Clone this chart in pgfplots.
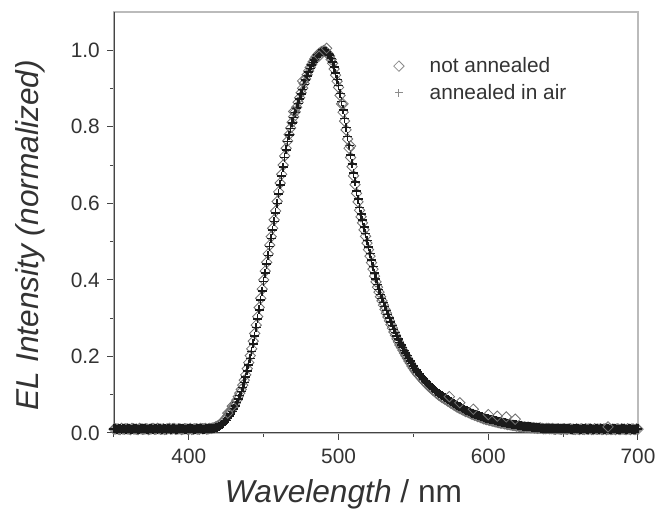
\documentclass[border=0pt]{standalone}
\usepackage{pgfplots}
\pgfplotsset{compat=1.18}
\usepackage{pgfplotstable}
\usepackage{fontspec}
\setmainfont{Liberation Sans}
\definecolor{txt}{HTML}{333333}
\definecolor{axdark}{HTML}{444444}
\definecolor{axlight}{HTML}{BBBBBB}
\definecolor{diam}{HTML}{707070}
\definecolor{plusc}{HTML}{1A1A1A}
\definecolor{legd}{HTML}{8C8C8C}

\pgfplotstableread{
x d p
350 .010 .011
352 .011 .010
354 .009 .011
356 .010 .012
358 .011 .010
360 .010 .011
362 .012 .010
364 .010 .011
366 .009 .010
368 .011 .012
370 .010 .011
372 .011 .010
374 .010 .011
376 .012 .010
378 .010 .012
380 .011 .011
382 .010 .010
384 .009 .011
386 .011 .012
388 .010 .010
390 .012 .011
392 .010 .010
394 .011 .012
396 .010 .011
398 .011 .010
400 .010 .011
402 .009 .012
404 .011 .010
406 .010 .011
408 .012 .011
410 .011 .010
412 .010 .012
414 .012 .011
416 .013 .012
418 .016 .014
420 .020 .017
422 .027 .022
424 .035 .029
426 .045 .038
428 .057 .050
430 .070 .063
432 .086 .080
434 .104 .098
436 .125 .119
438 .152 .146
440 .184 .178
442 .220 .213
444 .260 .253
446 .304 .298
448 .352 .347
450 .400 .396
452 .446 .441
454 .491 .487
456 .535 .530
458 .580 .575
460 .630 .625
462 .676 .671
464 .724 .720
466 .763 .761
468 .797 .796
470 .826 .824
472 .851 .849
474 .876 .873
476 .901 .898
478 .925 .922
480 .946 .943
482 .963 .961
484 .977 .975
486 .988 .987
488 .995 .994
490 .999 .998
492 .995 .996
494 .985 .987
496 .966 .970
498 .935 .940
500 .903 .908
502 .860 .866
504 .815 .822
506 .768 .775
508 .720 .727
510 .672 .679
512 .626 .632
514 .582 .589
516 .549 .556
518 .514 .521
520 .479 .486
522 .445 .452
524 .410 .418
526 .381 .388
528 .356 .362
530 .334 .341
532 .313 .320
534 .293 .300
536 .274 .281
538 .255 .262
540 .238 .245
542 .223 .230
544 .209 .216
546 .195 .202
548 .182 .188
550 .169 .175
552 .158 .164
554 .149 .154
556 .140 .145
558 .131 .136
560 .123 .128
562 .116 .120
564 .109 .113
566 .102 .106
568 .096 .100
570 .091 .095
572 .086 .090
574 .081 .085
576 .076 .080
578 .071 .075
580 .066 .070
582 .062 .066
584 .058 .062
586 .055 .058
588 .051 .054
590 .048 .051
592 .045 .048
594 .042 .045
596 .039 .042
598 .036 .039
600 .034 .037
602 .032 .035
604 .030 .033
606 .028 .031
608 .026 .029
610 .025 .028
612 .023 .026
614 .022 .024
616 .020 .023
618 .019 .021
620 .018 .020
622 .017 .019
624 .016 .018
626 .015 .017
628 .014 .016
630 .014 .015
632 .013 .015
634 .013 .014
636 .012 .013
638 .011 .012
640 .012 .013
642 .011 .012
644 .010 .012
646 .011 .011
648 .010 .012
650 .011 .011
652 .010 .012
654 .011 .011
656 .010 .010
658 .009 .011
660 .010 .011
662 .011 .010
664 .009 .011
666 .010 .010
668 .011 .011
670 .009 .010
672 .010 .011
674 .010 .010
676 .009 .011
678 .011 .010
680 .010 .011
682 .009 .010
684 .010 .011
686 .011 .010
688 .009 .010
690 .010 .011
692 .009 .010
694 .010 .011
696 .011 .010
698 .009 .010
700 .010 .011
351 .011 .012
353 .010 .011
355 .012 .010
357 .010 .011
359 .011 .012
361 .009 .010
363 .011 .012
365 .010 .011
367 .012 .010
369 .010 .011
371 .011 .012
373 .009 .010
375 .011 .012
377 .010 .011
379 .012 .010
381 .010 .012
383 .011 .011
385 .010 .010
387 .012 .011
389 .011 .012
391 .010 .010
393 .011 .011
395 .009 .012
397 .011 .010
399 .010 .012
401 .012 .011
403 .010 .010
405 .011 .012
407 .010 .011
409 .011 .010
411 .012 .011
413 .011 .012
415 .012 .012
417 .014 .013
419 .018 .015
421 .023 .019
423 .031 .025
425 .040 .033
427 .051 .044
429 .063 .056
431 .078 .071
433 .095 .089
435 .114 .108
437 .138 .132
439 .168 .162
441 .202 .195
443 .240 .233
445 .282 .275
447 .328 .322
449 .376 .371
451 .423 .418
453 .468 .464
455 .513 .508
457 .557 .552
459 .605 .600
461 .653 .648
463 .700 .695
465 .744 .740
467 .780 .778
469 .812 .810
471 .839 .837
473 .864 .861
475 .889 .886
477 .913 .910
479 .936 .933
481 .955 .952
483 .970 .968
485 .983 .981
487 .992 .991
489 .997 .996
491 .998 .998
493 .991 .992
495 .976 .979
497 .951 .956
499 .919 .924
501 .882 .887
503 .838 .844
505 .792 .798
507 .744 .751
509 .696 .703
511 .649 .656
513 .604 .611
515 .565 .572
517 .531 .538
519 .496 .503
521 .462 .469
523 .428 .435
525 .395 .403
527 .368 .375
529 .345 .352
531 .323 .330
533 .303 .310
535 .283 .290
537 .264 .271
539 .246 .253
541 .230 .237
543 .216 .223
545 .202 .209
547 .188 .195
549 .175 .181
551 .163 .169
553 .153 .159
555 .144 .150
557 .135 .140
559 .127 .132
561 .119 .124
563 .112 .116
565 .105 .109
567 .099 .103
569 .093 .097
571 .088 .092
573 .083 .087
575 .078 .082
577 .073 .077
579 .068 .072
581 .064 .068
583 .060 .064
585 .056 .060
587 .053 .056
589 .049 .052
591 .046 .049
593 .043 .046
595 .040 .043
597 .037 .040
599 .035 .038
601 .033 .036
603 .031 .034
605 .029 .032
607 .027 .030
609 .026 .028
611 .024 .027
613 .022 .025
615 .021 .024
617 .020 .022
619 .018 .021
621 .017 .020
623 .016 .018
625 .015 .017
627 .015 .016
629 .014 .015
631 .013 .015
633 .012 .014
635 .013 .013
637 .011 .013
639 .012 .012
641 .011 .013
643 .012 .011
645 .010 .012
647 .011 .012
649 .010 .011
651 .011 .012
653 .010 .011
655 .011 .010
657 .010 .012
659 .011 .011
661 .009 .010
663 .010 .012
665 .011 .011
667 .010 .010
669 .009 .011
671 .011 .010
673 .010 .011
675 .011 .012
677 .010 .010
679 .009 .011
681 .011 .010
683 .010 .012
685 .009 .011
687 .010 .010
689 .011 .011
691 .010 .012
693 .011 .010
695 .009 .011
697 .010 .010
699 .011 .012
}\spec

\begin{document}
\begin{tikzpicture}
\begin{axis}[
  scale only axis,
  width=314.4pt, height=252.6pt,
  xmin=350, xmax=700, ymin=0, ymax=1.1,
  xtick={400,500,600,700},
  minor xtick={350,450,550,650},
  ytick={0,0.2,0.4,0.6,0.8,1.0},
  minor ytick={0.1,0.3,0.5,0.7,0.9},
  yticklabel style={/pgf/number format/fixed, /pgf/number format/fixed zerofill, /pgf/number format/precision=1},
  /pgf/number format/assume math mode=true,
  tick pos=left,
  tick align=outside,
  major tick length=4pt,
  minor tick length=2.5pt,
  tick style={axdark, line width=0.6pt},
  axis line style={axlight, line width=0.8pt},
  ticklabel style={font=\fontsize{12.5}{14}\selectfont, text=txt},
  xticklabel style={yshift=-2pt},
  yticklabel style={xshift=-1pt},
  xlabel={\textit{Wavelength} / nm},
  ylabel={\textit{EL Intensity (normalized)}},
  label style={font=\fontsize{19}{22}\selectfont, text=txt},
  xlabel style={at={(axis description cs:0.438,-0.166)}, anchor=base},
  ylabel style={at={(axis description cs:-0.160,0.47)}, anchor=center},
  legend style={draw=none, fill=none, at={(axis description cs:0.530,0.905)}, anchor=north west,
    font=\fontsize{12.5}{14}\selectfont, text=txt, row sep=1.5pt, inner sep=1pt},
  legend image code/.code={\draw[#1] plot coordinates {(0cm,0cm)}; \path[draw=none] (0cm,0cm) -- (0.58cm,0cm);},
  legend cell align=left,
  clip=true,
]
\draw[axdark, line width=0.8pt] (rel axis cs:0,1) -- (rel axis cs:0,0) -- (rel axis cs:1,0);
\addlegendimage{only marks, mark=square, mark size=2.2pt, mark options={rotate=45, draw=legd, line width=0.5pt, fill=none}}
\addlegendentry{not annealed}
\addlegendimage{only marks, mark=+, mark size=2.2pt, mark options={draw=legd, line width=0.5pt}}
\addlegendentry{annealed in air}
\addplot[forget plot, only marks, mark=square, mark size=2.2pt, mark options={rotate=45, draw=diam, line width=0.5pt, fill=none}] table[x=x,y=d] {\spec};
\addplot[forget plot, only marks, mark=+, mark size=2.7pt, mark options={draw=plusc, line width=0.9pt}] table[x=x,y=p] {\spec};
\addplot[forget plot, only marks, mark=square, mark size=2.2pt, mark options={rotate=45, draw=diam, line width=0.5pt, fill=none}] coordinates {
(574,0.095) (581,0.079) (590,0.062) (600,0.048) (606,0.044) (612,0.042) (618,0.036) (680,0.016) (492,1.005) (487,0.985) (476,0.92) (470,0.84) (503,0.86) (508,0.75) (426,0.052) (429,0.070)};
\end{axis}
\pgfresetboundingbox
\useasboundingbox ([shift={(-68.4pt,-48pt)}]current axis.south west) rectangle ([shift={(16.8pt,7.2pt)}]current axis.north east);
\end{tikzpicture}
\end{document}
